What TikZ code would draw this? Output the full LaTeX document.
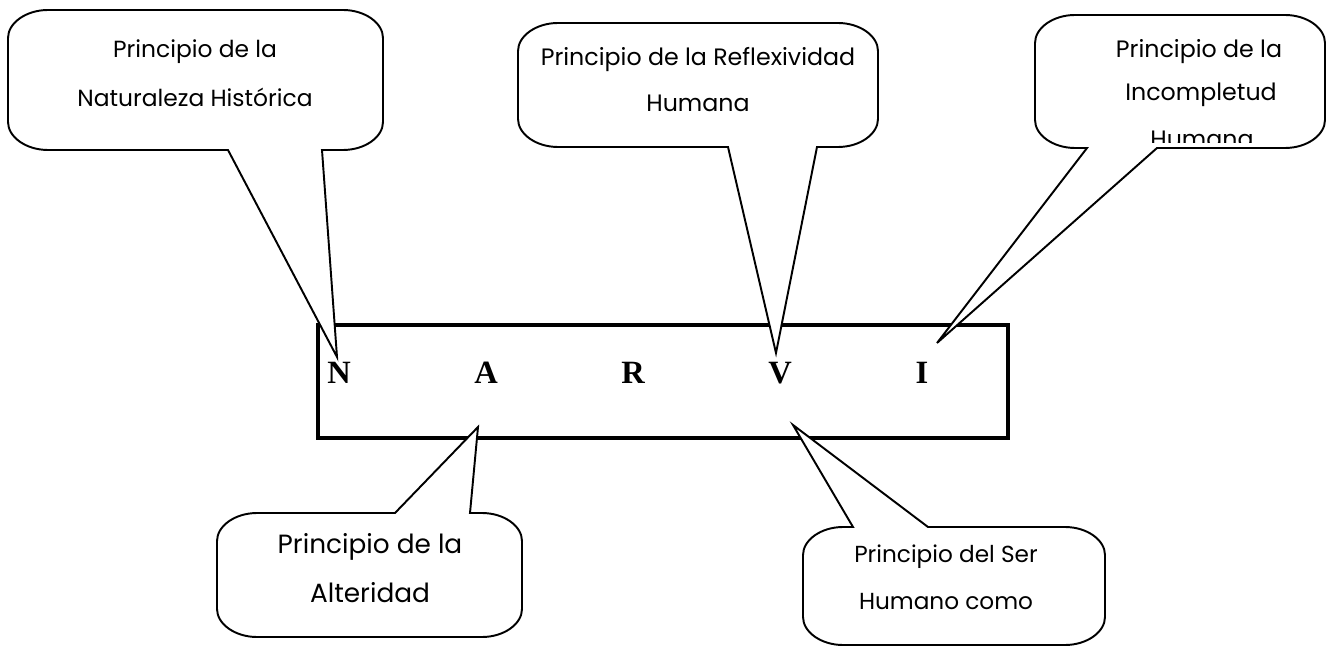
\documentclass[tikz,border=0pt]{standalone}
\usepackage{fontspec}
\setmainfont{Poppins}
\newfontfamily\letra{Liberation Serif}
\tikzset{
  bubble/.style={draw, fill=white, line width=1.1pt, line join=miter},
  frame/.style={draw, line width=2.2pt},
  letter/.style={font=\letra\fontsize{18.5}{20}\selectfont\bfseries},
  txt/.style={font=\fontsize{#1}{16}\selectfont},
  txt/.default=13.5
}
\begin{document}
\begin{tikzpicture}[x=0.02cm,y=-0.02cm]
        \useasboundingbox (0,0) rectangle (1328,648);
        \path[draw,frame] (318,325) rectangle (1008,438);
        \node[letter] (N) at (339,373) {N};
        \node[letter] (A) at (486,373) {A};
        \node[letter] (R) at (633,373) {R};
        \node[letter] (V) at (780,373) {V};
        \node[letter] (I) at (922,373) {I};
        \coordinate (tN) at (337,357);
        \coordinate (tV) at (776,353);
        \coordinate (tI) at (937,343);
        \coordinate (tA) at (478,427);
        \coordinate (tS) at (793,425);

        % callouts above the box
        \path[bubble] (48,10) -- (343,10) .. controls (365,10) and (383,23) .. (383,38) -- (383,122)
            .. controls (383,137) and (365,150) .. (343,150) -- (322,150) -- (tN) -- (228,150) -- (48,150)
            .. controls (26,150) and (8,137) .. (8,122) -- (8,38) .. controls (8,23) and (26,10) .. (48,10) -- cycle;
        \path[bubble] (558,23) -- (838,23) .. controls (860,23) and (878,36) .. (878,51) -- (878,119)
            .. controls (878,134) and (860,147) .. (838,147) -- (817,147) -- (tV) -- (728,147) -- (558,147)
            .. controls (536,147) and (518,134) .. (518,119) -- (518,51) .. controls (518,36) and (536,23) .. (558,23) -- cycle;
        \path[bubble] (1075,15) -- (1285,15) .. controls (1307,15) and (1325,28) .. (1325,43) -- (1325,120)
            .. controls (1325,135) and (1307,148) .. (1285,148) -- (1157,148) -- (tI) -- (1087,148) -- (1075,148)
            .. controls (1053,148) and (1035,135) .. (1035,120) -- (1035,43) .. controls (1035,28) and (1053,15) .. (1075,15) -- cycle;
        % callouts below the box
        \path[bubble] (257,513) -- (395,513) -- (tA) -- (470,513) -- (482,513)
            .. controls (504,513) and (522,526) .. (522,541) -- (522,609) .. controls (522,624) and (504,637) .. (482,637)
            -- (257,637) .. controls (235,637) and (217,624) .. (217,609) -- (217,541) .. controls (217,526) and (235,513) .. (257,513) -- cycle;
        \path[bubble] (843,527) -- (853,527) -- (tS) -- (928,527) -- (1065,527)
            .. controls (1087,527) and (1105,540) .. (1105,555) -- (1105,617) .. controls (1105,632) and (1087,645) .. (1065,645)
            -- (843,645) .. controls (821,645) and (803,632) .. (803,617) -- (803,555) .. controls (803,540) and (821,527) .. (843,527) -- cycle;

        \node[txt=13.3] (n1) at (195,52) {Principio de la};
        \node[txt=13.3] (n2) at (195,97) {Naturaleza Histórica};
        \node[txt] (v1) at (698,60) {Principio de la Reflexividad};
        \node[txt] (v2) at (698,103) {Humana};
        \node[txt] (i1) at (1199,52) {Principio de la};
        \node[txt] (i2) at (1201,95) {Incompletud};
        \begin{scope}
            \clip (1035,15) rectangle (1325,143);
            \node[txt] (i3) at (1202,139) {Humana};
        \end{scope}
        \node[txt=15] (a1) at (370,547) {Principio de la};
        \node[txt=15] (a2) at (370,593) {Alteridad};
        \node[txt=13.2] (s1) at (946,557) {Principio del Ser};
        \node[txt=13.2] (s2) at (946,602) {Humano como};
    \end{tikzpicture}
\end{document}
